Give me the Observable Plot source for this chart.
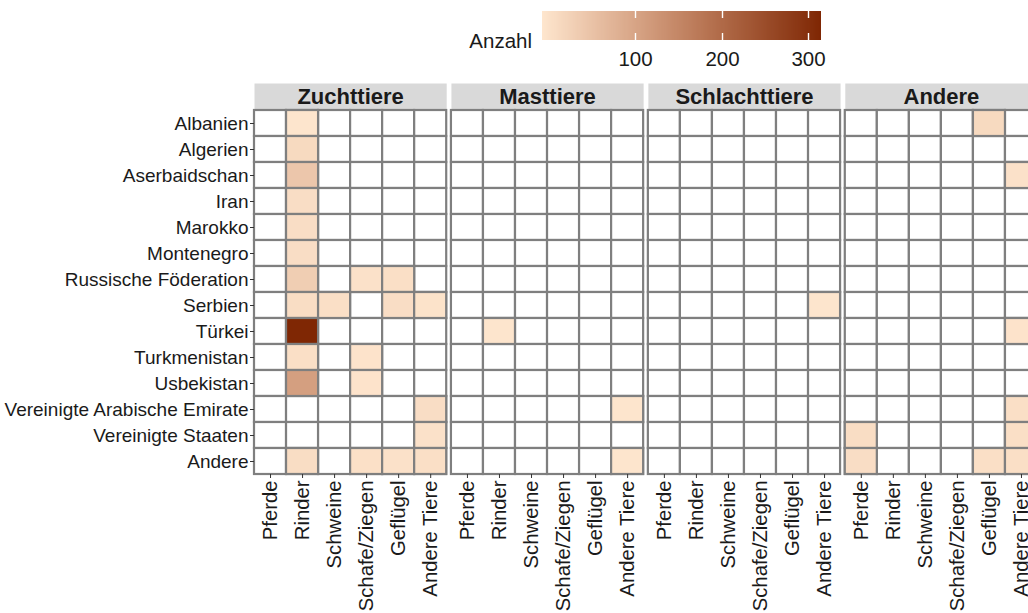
<!DOCTYPE html>
<html>
<head>
<meta charset="utf-8">
<script src="https://cdn.jsdelivr.net/npm/d3@7"></script>
<script src="https://cdn.jsdelivr.net/npm/@observablehq/plot@0.6"></script>
<style>
  html, body { margin: 0; padding: 0; background: white; overflow: hidden; }
  body { position: relative; width: 1028px; height: 613px; font-family: "Liberation Sans", Arial, sans-serif; }
  #chart { position: absolute; left: 0; top: 0; width: 1040px; }
  #chart svg { max-width: none !important; }
  #legend { position: absolute; left: 542px; top: 11px; }
  #legend line { stroke: white !important; stroke-width: 1.4px; stroke-dasharray: 7 15 7 100; }
  #legend text { fill: #1a1a1a; }
  #legtitle { position: absolute; left: 440px; width: 92px; text-align: right; top: 31px; font-size: 20.5px; line-height: 1; color: #1a1a1a; }
</style>
</head>
<body>
<div id="chart"></div>
<div id="legtitle">Anzahl</div>
<div id="legend"></div>
<script>
const facets = ["Zuchttiere", "Masttiere", "Schlachttiere", "Andere"];
const types = ["Pferde", "Rinder", "Schweine", "Schafe/Ziegen", "Geflügel", "Andere Tiere"];
const countries = ["Albanien", "Algerien", "Aserbaidschan", "Iran", "Marokko", "Montenegro",
  "Russische Föderation", "Serbien", "Türkei", "Turkmenistan", "Usbekistan",
  "Vereinigte Arabische Emirate", "Vereinigte Staaten", "Andere"];

// rows follow countries, columns follow types; 0 = no animals
const zuchttiere = [
  [0, 3, 0, 0, 0, 0],
  [0, 20, 0, 0, 0, 0],
  [0, 50, 0, 0, 0, 0],
  [0, 14, 0, 0, 0, 0],
  [0, 14, 0, 0, 0, 0],
  [0, 14, 0, 0, 0, 0],
  [0, 38, 0, 8, 12, 0],
  [0, 15, 12, 0, 14, 6],
  [0, 307, 0, 0, 0, 0],
  [0, 12, 0, 5, 0, 0],
  [0, 112, 0, 5, 0, 0],
  [0, 0, 0, 0, 0, 14],
  [0, 0, 0, 0, 0, 8],
  [0, 15, 0, 10, 8, 12]
];
const masttiere = [
  [0, 0, 0, 0, 0, 0],
  [0, 0, 0, 0, 0, 0],
  [0, 0, 0, 0, 0, 0],
  [0, 0, 0, 0, 0, 0],
  [0, 0, 0, 0, 0, 0],
  [0, 0, 0, 0, 0, 0],
  [0, 0, 0, 0, 0, 0],
  [0, 0, 0, 0, 0, 0],
  [0, 3, 0, 0, 0, 0],
  [0, 0, 0, 0, 0, 0],
  [0, 0, 0, 0, 0, 0],
  [0, 0, 0, 0, 0, 3],
  [0, 0, 0, 0, 0, 0],
  [0, 0, 0, 0, 0, 3]
];
const schlachttiere = [
  [0, 0, 0, 0, 0, 0],
  [0, 0, 0, 0, 0, 0],
  [0, 0, 0, 0, 0, 0],
  [0, 0, 0, 0, 0, 0],
  [0, 0, 0, 0, 0, 0],
  [0, 0, 0, 0, 0, 0],
  [0, 0, 0, 0, 0, 0],
  [0, 0, 0, 0, 0, 3],
  [0, 0, 0, 0, 0, 0],
  [0, 0, 0, 0, 0, 0],
  [0, 0, 0, 0, 0, 0],
  [0, 0, 0, 0, 0, 0],
  [0, 0, 0, 0, 0, 0],
  [0, 0, 0, 0, 0, 0]
];
const andere = [
  [0, 0, 0, 0, 20, 0],
  [0, 0, 0, 0, 0, 0],
  [0, 0, 0, 0, 0, 8],
  [0, 0, 0, 0, 0, 0],
  [0, 0, 0, 0, 0, 0],
  [0, 0, 0, 0, 0, 0],
  [0, 0, 0, 0, 0, 0],
  [0, 0, 0, 0, 0, 0],
  [0, 0, 0, 0, 0, 5],
  [0, 0, 0, 0, 0, 0],
  [0, 0, 0, 0, 0, 0],
  [0, 0, 0, 0, 0, 12],
  [15, 0, 0, 0, 0, 12],
  [14, 0, 0, 0, 12, 12]
];
const legendTicks = [100, 200, 300];
const colorDomain = [1, 307];
const legendDomain = [-8, 315];
const lowColor = "#fee6ce";
const highColor = "#7f2704";

const matrices = [zuchttiere, masttiere, schlachttiere, andere];
const cells = [];
facets.forEach((f, k) => {
  countries.forEach((c, i) => {
    types.forEach((t, j) => {
      cells.push({facet: f, country: c, type: t, value: matrices[k][i][j]});
    });
  });
});
const filled = cells.filter(d => d.value > 0);

const colorOpts = {type: "linear", domain: colorDomain, range: [lowColor, highColor], interpolate: "lab"};
const font = "'Liberation Sans', Arial, sans-serif";
const gridStroke = "#7f7f7f";

const chart = Plot.plot({
  width: 1038,
  height: 613,
  marginLeft: 254,
  marginRight: 1,
  marginTop: 110,
  marginBottom: 139,
  style: {fontFamily: font, color: "#1a1a1a", background: "white", overflow: "visible", maxWidth: "none"},
  fx: {domain: facets, axis: null, paddingInner: 0.024, paddingOuter: 0, round: false},
  x: {domain: types, padding: 0, round: false},
  y: {domain: countries, padding: 0, round: false},
  color: colorOpts,
  marks: [
    Plot.frame({fill: "#d9d9d9", stroke: null, insetTop: -27, insetBottom: 365}),
    Plot.text(facets, {fx: d => d, text: d => d, frameAnchor: "top", lineAnchor: "middle", dy: -14,
      fontSize: 22, fontWeight: "bold", fill: "#1a1a1a"}),
    Plot.cell(cells, {fx: "facet", x: "type", y: "country", fill: "white", stroke: gridStroke, strokeWidth: 2.2, inset: 0}),
    Plot.cell(filled, {fx: "facet", x: "type", y: "country", fill: "value", stroke: gridStroke, strokeWidth: 2.2, inset: 0}),
    Plot.axisY({tickSize: 4, tickPadding: 2, fontSize: 19, label: null, stroke: "#333"}),
    Plot.axisX({tickRotate: -90, tickSize: 4, tickPadding: 2, fontSize: 20.3, label: null, stroke: "#333"})
  ]
});
document.getElementById("chart").append(chart);

const legend = Plot.legend({
  color: {type: "linear", domain: legendDomain, range: [lowColor, highColor], interpolate: "lab"},
  label: null,
  width: 279,
  height: 64,
  marginLeft: 0,
  marginRight: 0,
  marginTop: 0,
  marginBottom: 35,
  tickSize: 8,
  ticks: legendTicks,
  style: {fontFamily: font, fontSize: "20.5px", color: "#1a1a1a", overflow: "visible"}
});
document.getElementById("legend").append(legend);
</script>
</body>
</html>
